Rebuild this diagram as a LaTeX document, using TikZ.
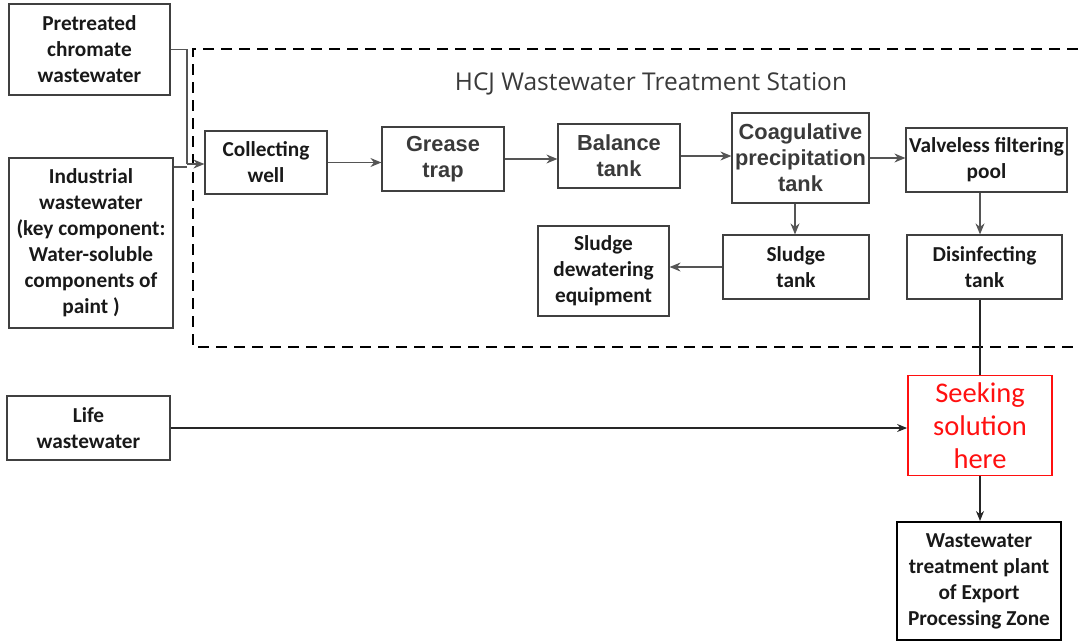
\documentclass[tikz,border=0pt]{standalone}
\usepackage{fontspec}
\setmainfont{Carlito}
\newfontfamily\arialf{Liberation Sans}
\newfontfamily\titlef{Open Sans}
\usetikzlibrary{arrows.meta}
\definecolor{boxgray}{HTML}{404040}
\definecolor{linegray}{HTML}{555555}
\definecolor{txtgray}{HTML}{3A3A3A}
\definecolor{redc}{HTML}{FF1010}
\begin{document}
\begin{tikzpicture}[x=1pt,y=-1pt,
  box/.style={draw=boxgray,line width=1.2pt,align=center,inner sep=0pt,
    font=\bfseries\fontsize{21.3}{26}\selectfont,text=black!90},
  abox/.style={box,font=\arialf\bfseries\fontsize{21.8}{26}\selectfont,text=txtgray},
  flow/.style={draw=linegray,line width=1.3pt,-{Stealth[length=11pt,width=9pt]}},
  plain/.style={draw=linegray,line width=1.3pt},
  bflow/.style={draw=black!85,line width=1.2pt,-{Stealth[length=10pt,width=8pt]}}
]
\useasboundingbox (0,0) rectangle (1078,642);
% dashed station boundary
\draw[line width=1.8pt,dash pattern=on 11pt off 7pt] (1078,49) -- (193,49) -- (193,347) -- (1078,347);
\node[font=\titlef\fontsize{24.5}{30}\selectfont,text=txtgray] (title) at (651,84) {HCJ Wastewater Treatment Station};
% nodes
\node[box,minimum width=161,minimum height=91] (pre) at (89.5,49.5) {Pretreated\\chromate\\wastewater};
\node[box,minimum width=164,minimum height=170] (ind) at (91,243) {Industrial\\wastewater\\(key component:\\Water-soluble\\components of\\paint )};
\node[box,minimum width=122,minimum height=63] (cw) at (266,162.5) {Collecting\\well};
\node[abox,minimum width=122,minimum height=64] (gt) at (443,159) {Grease\\trap};
\node[abox,minimum width=122,minimum height=64] (bt) at (619,156) {Balance\\tank};
\node[abox,minimum width=137,minimum height=90] (cp) at (800.5,158) {Coagulative\\precipitation\\tank};
\node[box,minimum width=161,minimum height=64] (vf) at (986.5,160) {Valveless filtering\\pool};
\node[box,minimum width=146,minimum height=64] (st) at (796,267) {Sludge\\tank};
\node[box,minimum width=155,minimum height=64] (dt) at (984.5,267) {Disinfecting\\tank};
\node[box,minimum width=131,minimum height=90] (sd) at (603.5,271) {Sludge\\dewatering\\equipment};
\node[box,minimum width=163,minimum height=64] (lw) at (88.5,428) {Life\\wastewater};
\node[draw=redc,line width=1.8pt,align=center,inner sep=0pt,minimum width=144,minimum height=100,
  text=redc,font=\fontsize{28.5}{33}\selectfont] (ss) at (980,425.5) {Seeking\\solution\\here};
\node[box,draw=black,line width=2pt,minimum width=164,minimum height=118] (wp) at (979,581) {Wastewater\\treatment plant\\of Export\\Processing Zone};
% connectors
\coordinate (jn) at (187,164);
\coordinate (ji) at (187,167);
\draw[plain] (pre.east) -| (jn);
\draw[plain] (ind.east |- ji) -- (ji);
\draw[flow] (jn) -- (jn -| cw.west);
\draw[flow] (cw.east) -- (cw.east -| gt.west);
\draw[flow] (gt.east) -- (gt.east -| bt.west);
\draw[flow] (bt.east) -- (bt.east -| cp.west);
\draw[flow] (cp.east) -- (cp.east -| vf.west);
\draw[flow] (cp.south -| 795,0) -- (st.north -| 795,0);
\draw[flow] (vf.south -| ss.north) -- (dt.north -| ss.north);
\draw[flow] (st.west) -- (st.west -| sd.east);
\draw[bflow,-] (dt.south -| ss.north) -- (ss.north);
\draw[bflow] (lw.east) -- (lw.east -| ss.west);
\draw[bflow] (ss.south) -- (ss.south |- wp.north);
\end{tikzpicture}
\end{document}
